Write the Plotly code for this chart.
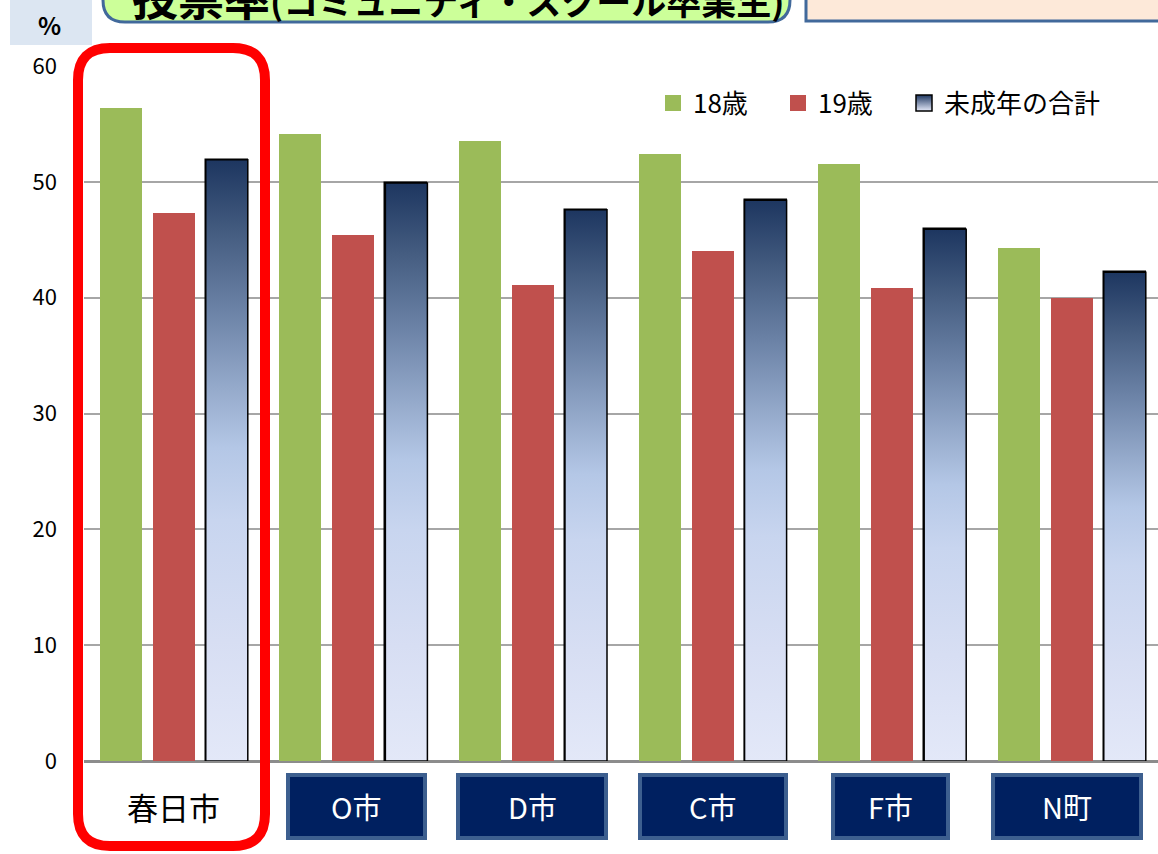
import plotly.graph_objects as go

# ---- data ----
categories = ["春日市", "O市", "D市", "C市", "F市", "N町"]
age18 = [56.4, 54.1, 53.5, 52.4, 51.5, 44.3]
age19 = [47.3, 45.4, 41.1, 44.0, 40.8, 40.0]
minor_total = [51.9, 49.9, 47.6, 48.4, 45.9, 42.2]
series_names = ["18歳", "19歳", "未成年の合計"]
y_ticks = [0, 10, 20, 30, 40, 50, 60]

FONT = "Noto Sans CJK JP"
W, H = 1158, 854
ML, MR, MT, MB = 84, 0, 66, 93
PW, PH = W - ML - MR, H - MT - MB


def px(x):
    return (x - ML) / PW


def py(y):
    return (H - MB - y) / PH


# bar geometry (in category units)
SLOT = 0.295
BW = 0.234

GREEN = "#9bbb59"
RED = "#c0504d"
NAVY_TOP = "#1d3660"
NAVY_BOTTOM = "#e3e8f8"
grad = [
    [0.0, NAVY_BOTTOM], [0.2, "#d7def3"], [0.4, "#c8d5ef"], [0.52, "#b4c7e6"],
    [0.62, "#95aacb"], [0.75, "#6b82a6"], [0.88, "#445c80"], [1.0, NAVY_TOP],
]

fig = go.Figure()
xs = list(range(len(categories)))
fig.add_trace(go.Bar(x=xs, y=age18, name=series_names[0], width=BW, offset=-SLOT - BW / 2,
                     marker=dict(color=GREEN, line=dict(width=0)), showlegend=False))
fig.add_trace(go.Bar(x=xs, y=age19, name=series_names[1], width=BW, offset=-BW / 2,
                     marker=dict(color=RED, line=dict(width=0)), showlegend=False))
fig.add_trace(go.Bar(x=xs, y=minor_total, name=series_names[2], width=BW, offset=SLOT - BW / 2,
                     marker=dict(color="#95aacb", line=dict(color="#000", width=1.5)), showlegend=False))
# gradient overlay for the 未成年の合計 bars
for i, v in enumerate(minor_total):
    c = xs[i] + SLOT
    fig.add_trace(go.Scatter(
        x=[c - BW / 2, c + BW / 2, c + BW / 2, c - BW / 2, c - BW / 2],
        y=[0, 0, v, v, 0],
        mode="lines", fill="toself",
        fillgradient=dict(type="vertical", colorscale=grad, start=0, stop=v),
        line=dict(color="#000000", width=1.5),
        showlegend=False, hoverinfo="skip",
    ))

# legend entries (one legend per series, positioned like the original)
leg_markers = [
    dict(symbol="square", size=16, color=GREEN, line=dict(width=0)),
    dict(symbol="square", size=16, color=RED, line=dict(width=0)),
    dict(symbol="square", size=16, color=NAVY_TOP,
         gradient=dict(type="vertical", color=NAVY_BOTTOM), line=dict(color="#000", width=1.5)),
]
leg_ids = ["legend", "legend2", "legend3"]
leg_x = [653, 778, 904]
for name, mk, lid in zip(series_names, leg_markers, leg_ids):
    fig.add_trace(go.Scatter(x=[None], y=[None], mode="markers", marker=mk, name=name,
                             legend=lid, showlegend=True, hoverinfo="skip"))

shapes = []
annotations = []

# "%" box
shapes.append(dict(type="rect", xref="paper", yref="paper", x0=px(10), x1=px(92), y0=py(45), y1=py(-5),
                   fillcolor="#dce6f2", line=dict(width=0), layer="below"))
annotations.append(dict(xref="paper", yref="paper", x=px(49), y=py(24), text="<b>%</b>", showarrow=False,
                        font=dict(family=FONT, size=24, color="#000"), xanchor="center", yanchor="middle"))

# green title box (cut off at top)
r = 22
x0, x1, y0, y1 = 103, 790, -60, 22
path = (f"M{px(x0)},{py(y0)} L{px(x0)},{py(y1 - r)} Q{px(x0)},{py(y1)} {px(x0 + r)},{py(y1)} "
        f"L{px(x1 - r)},{py(y1)} Q{px(x1)},{py(y1)} {px(x1)},{py(y1 - r)} L{px(x1)},{py(y0)} Z")
shapes.append(dict(type="path", xref="paper", yref="paper", path=path, fillcolor="#ccff99",
                   line=dict(color="#41699b", width=3)))
annotations.append(dict(xref="paper", yref="paper", x=px(130), y=py(30), xanchor="left", yanchor="bottom",
                        text="<b>投票率<span style='font-size:35px'>(コミュニティ・スクール卒業生)</span></b>",
                        showarrow=False, font=dict(family=FONT, size=46, color="#000")))

# peach box (cut off at top)
shapes.append(dict(type="rect", xref="paper", yref="paper", x0=px(806), x1=px(1170), y0=py(21), y1=py(-40),
                   fillcolor="#fde9d9", line=dict(color="#41699b", width=3)))

# red rounded rectangle around 春日市
r = 32
x0, x1, y0, y1 = 78, 265, 48, 846
path = (f"M{px(x0)},{py(y0 + r)} Q{px(x0)},{py(y0)} {px(x0 + r)},{py(y0)} L{px(x1 - r)},{py(y0)} "
        f"Q{px(x1)},{py(y0)} {px(x1)},{py(y0 + r)} L{px(x1)},{py(y1 - r)} Q{px(x1)},{py(y1)} {px(x1 - r)},{py(y1)} "
        f"L{px(x0 + r)},{py(y1)} Q{px(x0)},{py(y1)} {px(x0)},{py(y1 - r)} Z")
shapes.append(dict(type="path", xref="paper", yref="paper", path=path, line=dict(color="#ff0000", width=10)))

# category label boxes
box_px = [None, (286, 427), (456, 608), (638, 788), (831, 950), (991, 1143)]
for i, name in enumerate(categories):
    if box_px[i] is None:
        annotations.append(dict(xref="x", yref="paper", x=xs[i], y=py(806), text=name, showarrow=False,
                                font=dict(family=FONT, size=31, color="#000"), xanchor="center", yanchor="middle"))
    else:
        bx0, bx1 = box_px[i]
        shapes.append(dict(type="rect", xref="paper", yref="paper", x0=px(bx0 + 2), x1=px(bx1 - 2),
                           y0=py(838), y1=py(775), fillcolor="#002060", line=dict(color="#3d5f8f", width=4)))
        annotations.append(dict(xref="paper", yref="paper", x=px((bx0 + bx1) / 2), y=py(806), text=name,
                                showarrow=False, font=dict(family=FONT, size=29, color="#ffffff"),
                                xanchor="center", yanchor="middle"))

legend_common = dict(orientation="h", yanchor="middle", xanchor="left", y=py(103),
                     font=dict(family=FONT, size=26, color="#000"), bgcolor="rgba(0,0,0,0)",
                     itemsizing="trace")

fig.update_layout(
    width=W, height=H,
    margin=dict(l=ML, r=MR, t=MT, b=MB),
    paper_bgcolor="#ffffff", plot_bgcolor="#ffffff",
    showlegend=True,
    legend=dict(x=px(leg_x[0]), **legend_common),
    legend2=dict(x=px(leg_x[1]), **legend_common),
    legend3=dict(x=px(leg_x[2]), **legend_common),
    xaxis=dict(range=[-0.5, -0.5 + PW / 179.6], showticklabels=False, showgrid=False, zeroline=False,
               showline=False, ticks=""),
    yaxis=dict(range=[0, 60], tickvals=y_ticks, showgrid=True, gridcolor="#a6a6a6", gridwidth=1.5,
               zeroline=True, zerolinecolor="#8c8c8c", zerolinewidth=3, showline=False,
               tickfont=dict(family=FONT, size=22, color="#000"), ticklabelstandoff=26),
    shapes=shapes, annotations=annotations,
    bargap=0,
)

fig.write_html("out.html", config={"displayModeBar": False},
               post_script="document.body.style.margin='0';")
